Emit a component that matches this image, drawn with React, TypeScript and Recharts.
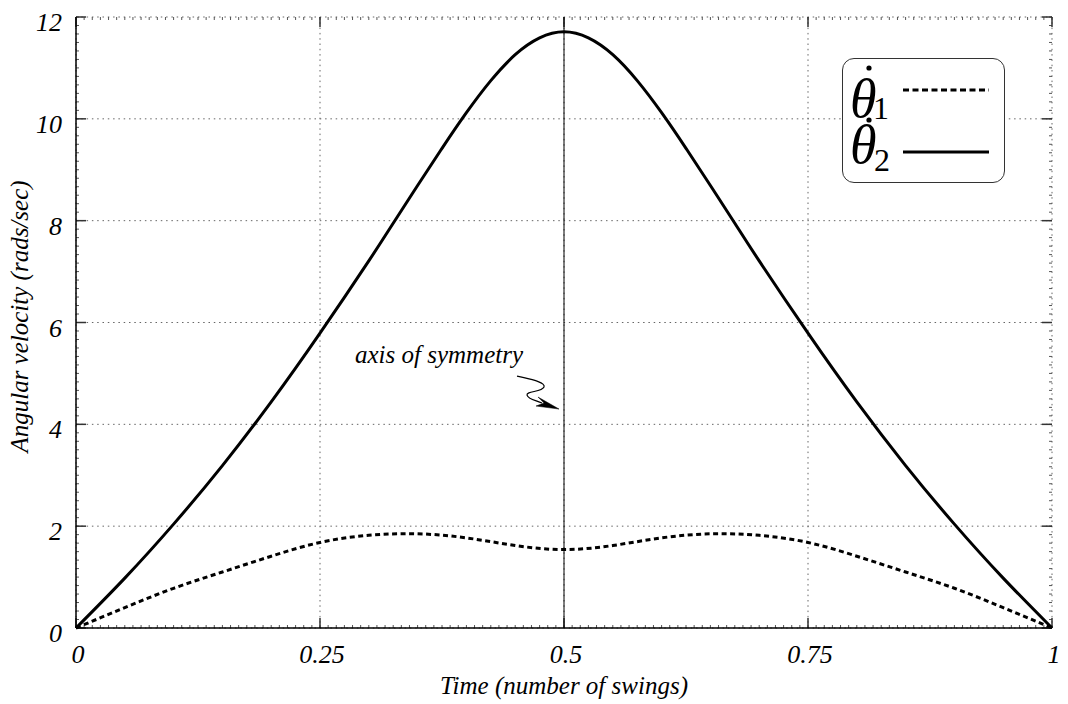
import {
    LineChart,
    Line,
    XAxis,
    YAxis,
    CartesianGrid,
    ReferenceLine,
    ReferenceDot,
} from "recharts";

// time (fraction of one swing) and angular velocity (rads/sec)
const TIME_1 = [0, 0.05, 0.1, 0.15, 0.2, 0.25, 0.3, 0.35, 0.4, 0.45, 0.5, 0.55, 0.6, 0.65, 0.7, 0.75, 0.8, 0.85, 0.9, 0.95, 1];
const THETA_1 = [0, 0.4, 0.78, 1.1, 1.41, 1.68, 1.82, 1.85, 1.77, 1.62, 1.54, 1.62, 1.77, 1.85, 1.82, 1.68, 1.41, 1.1, 0.78, 0.4, 0];

const TIME_2 = [0, 0.05, 0.1, 0.15, 0.2, 0.25, 0.3, 0.325, 0.35, 0.375, 0.4, 0.425, 0.45, 0.475, 0.5, 0.525, 0.55, 0.575, 0.6, 0.625, 0.65, 0.675, 0.7, 0.75, 0.8, 0.85, 0.9, 0.95, 1];
const THETA_2 = [0, 0.98, 2.04, 3.19, 4.44, 5.79, 7.21, 7.95, 8.69, 9.42, 10.12, 10.75, 11.26, 11.59, 11.71, 11.59, 11.26, 10.75, 10.12, 9.42, 8.69, 7.95, 7.21, 5.79, 4.44, 3.19, 2.04, 0.98, 0];

const X_TICKS = [0, 0.25, 0.5, 0.75, 1];
const X_LABELS = ["0", "0.25", "0.5", "0.75", "1"];
const Y_TICKS = [0, 2, 4, 6, 8, 10, 12];

const X_MINOR = Array.from({ length: 121 }, (_, i) => i / 120);
const Y_MINOR = Array.from({ length: 73 }, (_, i) => i / 6);

const FONT = "'Liberation Serif', 'Times New Roman', serif";

const series1 = TIME_1.map((t, i) => ({ t, v: THETA_1[i] }));
const series2 = TIME_2.map((t, i) => ({ t, v: THETA_2[i] }));

// tick marks drawn inward on both opposite edges of the plot
function vTicks(len: number, color: string, width: number) {
    return (p: any) => {
        const top = Math.min(p.y1, p.y2);
        const bot = Math.max(p.y1, p.y2);
        return (
            <g>
                <line x1={p.x1} x2={p.x1} y1={top} y2={top + len} stroke={color} strokeWidth={width} />
                <line x1={p.x1} x2={p.x1} y1={bot} y2={bot - len} stroke={color} strokeWidth={width} />
            </g>
        );
    };
}

function hTicks(len: number, color: string, width: number) {
    return (p: any) => {
        const left = Math.min(p.x1, p.x2);
        const right = Math.max(p.x1, p.x2);
        return (
            <g>
                <line y1={p.y1} y2={p.y1} x1={left} x2={left + len} stroke={color} strokeWidth={width} />
                <line y1={p.y1} y2={p.y1} x1={right} x2={right - len} stroke={color} strokeWidth={width} />
            </g>
        );
    };
}

function XTick({ x, y, payload }: any) {
    const idx = X_TICKS.indexOf(payload.value);
    return (
        <text x={x + 2} y={y + 35} textAnchor="middle" fontFamily={FONT} fontStyle="italic" fontSize={26} fill="#000">
            {idx >= 0 ? X_LABELS[idx] : ""}
        </text>
    );
}

function YTick({ x, y, payload }: any) {
    return (
        <text x={x} y={y + 14} textAnchor="end" fontFamily={FONT} fontStyle="italic" fontSize={26} fill="#000">
            {payload.value}
        </text>
    );
}

function SymmetryNote({ cx, cy }: any) {
    const d = `M ${cx - 42} ${cy - 33} C ${cx - 30} ${cy - 30}, ${cx - 13} ${cy - 27}, ${cx - 15} ${cy - 22} C ${cx - 17} ${cy - 17}, ${cx - 33} ${cy - 18}, ${cx - 32} ${cy - 14} C ${cx - 31} ${cy - 10}, ${cx - 24} ${cy - 9}, ${cx - 17} ${cy - 6}`;
    const head = `M ${cx} ${cy} L ${cx - 21} ${cy - 12} L ${cx - 15} ${cy - 6} L ${cx - 23} ${cy - 3} Z`;
    return (
        <g>
            <text x={cx - 36} y={cy - 46} textAnchor="end" fontFamily={FONT} fontStyle="italic" fontSize={25} fill="#000">
                axis of symmetry
            </text>
            <path d={d} fill="none" stroke="#000" strokeWidth={1.2} />
            <path d={head} fill="#000" stroke="#000" strokeWidth={0.5} />
        </g>
    );
}

function ThetaLegend() {
    return (
        <div
            style={{
                position: "absolute",
                left: 842,
                top: 58,
                width: 163,
                height: 125,
                boxSizing: "border-box",
                border: "1.5px solid #333",
                borderRadius: 12,
                background: "#fff",
            }}
        >
            <svg width={160} height={122} style={{ position: "absolute", left: 0, top: 0 }}>
                <text x={7} y={58} fontFamily={FONT} fontStyle="italic" fontSize={54} fill="#000">θ</text>
                <circle cx={26} cy={9} r={2.6} fill="#000" />
                <text x={30} y={60} fontFamily={FONT} fontSize={32} fill="#000">1</text>
                <line x1={60} x2={146} y1={31} y2={31} stroke="#000" strokeWidth={3} strokeDasharray="6 3.5" />

                <text x={7} y={104} fontFamily={FONT} fontStyle="italic" fontSize={54} fill="#000">θ</text>
                <circle cx={26} cy={61} r={2.6} fill="#000" />
                <text x={31} y={112} fontFamily={FONT} fontSize={32} fill="#000">2</text>
                <line x1={60} x2={146} y1={93} y2={93} stroke="#000" strokeWidth={3} />
            </svg>
        </div>
    );
}

export default function App() {
    return (
        <div style={{ position: "absolute", left: 0, top: 0, width: 1068, height: 704, background: "#fff" }}>
            <LineChart width={1068} height={704} margin={{ top: 17, right: 16, bottom: 0, left: 0 }}>
                <CartesianGrid stroke="#666" strokeDasharray="1.5 3.8" />
                <XAxis
                    dataKey="t"
                    type="number"
                    domain={[0, 1]}
                    ticks={X_TICKS}
                    interval={0}
                    height={76}
                    tickSize={0}
                    tickMargin={0}
                    tickLine={false}
                    axisLine={{ stroke: "#000", strokeWidth: 1.5 }}
                    tick={<XTick />}
                    label={{
                        content: (props: any) => {
                            const vb = props.viewBox;
                            return (
                                <text x={vb.x + vb.width / 2} y={vb.y + 66} textAnchor="middle" fontFamily={FONT} fontStyle="italic" fontSize={25} fill="#000">
                                    Time (number of swings)
                                </text>
                            );
                        },
                    }}
                />
                <XAxis
                    xAxisId="top"
                    orientation="top"
                    type="number"
                    domain={[0, 1]}
                    ticks={X_TICKS}
                    height={0}
                    tickLine={false}
                    tick={false}
                    axisLine={{ stroke: "#000", strokeWidth: 1.5 }}
                />
                <YAxis
                    type="number"
                    domain={[0, 12]}
                    ticks={Y_TICKS}
                    interval={0}
                    width={76}
                    tickSize={0}
                    tickMargin={14}
                    tickLine={false}
                    axisLine={{ stroke: "#000", strokeWidth: 1.5 }}
                    tick={<YTick />}
                    label={{
                        content: (props: any) => {
                            const vb = props.viewBox;
                            const x = vb.x + 28;
                            const y = vb.y + vb.height / 2 - 6;
                            return (
                                <text x={x} y={y} transform={`rotate(-90, ${x}, ${y})`} textAnchor="middle" fontFamily={FONT} fontStyle="italic" fontSize={25} fill="#000">
                                    Angular velocity (rads/sec)
                                </text>
                            );
                        },
                    }}
                />
                <YAxis
                    yAxisId="right"
                    orientation="right"
                    type="number"
                    domain={[0, 12]}
                    ticks={Y_TICKS}
                    width={0}
                    tickLine={false}
                    tick={false}
                    axisLine={{ stroke: "#000", strokeWidth: 1.5 }}
                />

                {X_MINOR.map((v) => (
                    <ReferenceLine key={`xm${v}`} x={v} stroke="none" shape={vTicks(3, "#555", 1)} />
                ))}
                {Y_MINOR.map((v) => (
                    <ReferenceLine key={`ym${v}`} y={v} stroke="none" shape={hTicks(3, "#555", 1)} />
                ))}
                {X_TICKS.map((v) => (
                    <ReferenceLine key={`xM${v}`} x={v} stroke="none" shape={vTicks(10, "#333", 1.5)} />
                ))}
                {Y_TICKS.map((v) => (
                    <ReferenceLine key={`yM${v}`} y={v} stroke="none" shape={hTicks(10, "#333", 1.5)} />
                ))}

                <ReferenceLine x={0.5} stroke="#000" strokeWidth={1} />

                <Line
                    data={series1}
                    dataKey="v"
                    type="natural"
                    stroke="#000"
                    strokeWidth={3}
                    strokeDasharray="5 3.5"
                    dot={false}
                    isAnimationActive={false}
                />
                <Line
                    data={series2}
                    dataKey="v"
                    type="natural"
                    stroke="#000"
                    strokeWidth={3}
                    dot={false}
                    isAnimationActive={false}
                />

                <ReferenceDot x={0.4949} y={4.3} r={0} shape={<SymmetryNote />} />
            </LineChart>
            <ThetaLegend />
        </div>
    );
}
